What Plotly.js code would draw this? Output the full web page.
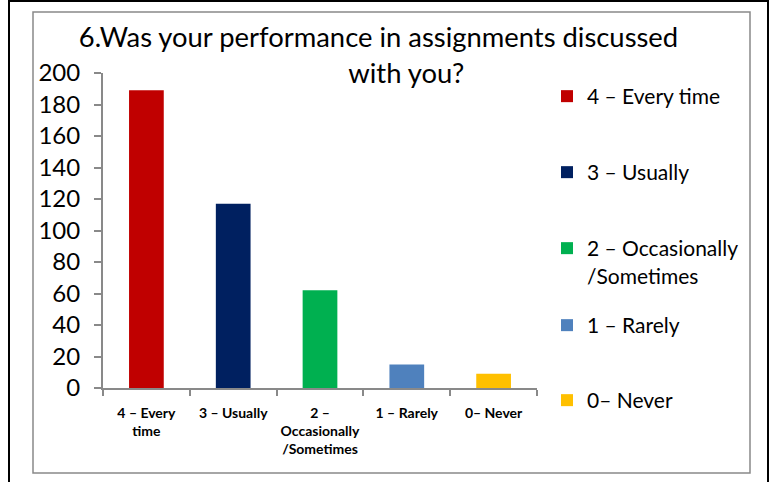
<!DOCTYPE html>
<html>
<head>
<meta charset="utf-8">
<script src="https://cdn.plot.ly/plotly-3.0.1.min.js"></script>
<style>
html,body{margin:0;padding:0;background:#fff;}
#chart{width:774px;height:482px;}
</style>
</head>
<body>
<div id="chart"></div>
<script>
// Data
const categories = ["4 – Every time", "3 – Usually", "2 – Occasionally /Sometimes", "1 – Rarely", "0– Never"];
const tickLabels = ["4 – Every<br>time", "3 – Usually", "2 –<br>Occasionally<br>/Sometimes", "1 – Rarely", "0– Never"];
const legendLabels = ["4 – Every time", "3 – Usually", "2 – Occasionally<br>/Sometimes", "1 – Rarely", "0– Never"];
const values = [189, 117, 62, 15, 9];
const colors = ["#C00000", "#002060", "#00B050", "#4F81BD", "#FFC000"];
const yTicks = [0, 20, 40, 60, 80, 100, 120, 140, 160, 180, 200];

const FONT = "Lato, 'Open Sans', sans-serif";
const legendNames = ["legend", "legend2", "legend3", "legend4", "legend5"];

// plot area in pixels
const L = 103, R = 537, T = 73, B = 388;
const W = 774, H = 482;
const px = x => (x - L) / (R - L);
const py = y => (B - y) / (B - T);

const traces = categories.map((c, i) => ({
  type: "bar",
  x: [c],
  y: [values[i]],
  name: legendLabels[i],
  marker: {color: colors[i]},
  width: 0.4,
  legend: legendNames[i],
  showlegend: true,
  hoverinfo: "x+y"
}));

const legendY = [88, 164, 240, 317, 392];
const layout = {
  width: W, height: H,
  margin: {l: L, r: W - R, t: T, b: H - B},
  paper_bgcolor: "#ffffff",
  plot_bgcolor: "#ffffff",
  barmode: "overlay",
  showlegend: true,
  font: {family: FONT, color: "#000000"},
  title: {
    text: "6.Was your performance in assignments discussed<br>" + "\u00A0".repeat(8) + "with you?",
    font: {family: FONT, size: 27.4, color: "#000000"},
    x: 378.5 / W, xanchor: "center", xref: "container",
    y: 1 - 47 / H, yanchor: "top", yref: "container"
  },
  xaxis: {
    type: "category",
    categoryorder: "array",
    categoryarray: categories,
    tickvals: categories,
    ticktext: tickLabels,
    range: [-0.5, 4.5],
    tickangle: 0,
    showline: true, linecolor: "#898989", linewidth: 2,
    ticks: "outside", tickson: "boundaries", ticklen: 6, tickcolor: "#898989", tickwidth: 2,
    showgrid: false, zeroline: false,
    ticklabelstandoff: 11,
    tickfont: {family: FONT, size: 14, color: "#000000", weight: "bold"}
  },
  yaxis: {
    range: [0, 200],
    tickvals: yTicks,
    showline: true, linecolor: "#898989", linewidth: 2,
    ticks: "outside", ticklen: 7, tickcolor: "#898989", tickwidth: 2,
    showgrid: false, zeroline: false,
    ticklabelstandoff: 9,
    tickfont: {family: FONT, size: 24, color: "#000000"}
  },
  shapes: [
    {type: "rect", xref: "paper", yref: "paper",
     x0: px(33), x1: px(750), y0: py(473), y1: py(12),
     line: {color: "#898989", width: 1.5}, fillcolor: "rgba(0,0,0,0)", layer: "below"},
    {type: "rect", xref: "paper", yref: "paper",
     x0: px(9), x1: px(768), y0: py(495), y1: py(1),
     line: {color: "#000000", width: 2}, fillcolor: "rgba(0,0,0,0)", layer: "below"}
  ]
};

legendNames.forEach((ln, i) => {
  layout[ln] = {
    x: px(547), xanchor: "left",
    y: py(legendY[i] - 12), yanchor: "top",
    valign: "top",
    bgcolor: "rgba(0,0,0,0)",
    borderwidth: 0,
    font: {family: FONT, size: 21, color: "#000000"},
    itemclick: false, itemdoubleclick: false
  };
});

Plotly.newPlot("chart", traces, layout, {displayModeBar: false, staticPlot: true});
</script>
</body>
</html>
